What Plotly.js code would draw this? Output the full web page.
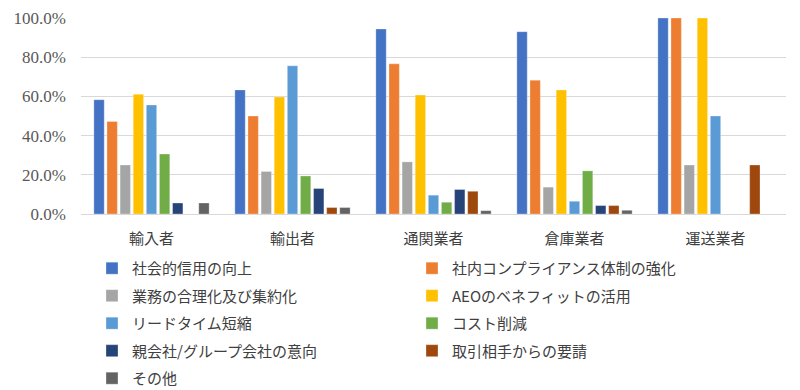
<!DOCTYPE html>
<html><head><meta charset="utf-8">
<script src="https://cdn.plot.ly/plotly-3.0.1.min.js"></script>
<style>html,body{margin:0;padding:0;background:#fff}#chart{width:800px;height:390px}</style>
</head><body><div id="chart"></div>
<script>
const categories = ["輸入者", "輸出者", "通関業者", "倉庫業者", "運送業者"];
const seriesNames = ["社会的信用の向上", "社内コンプライアンス体制の強化", "業務の合理化及び集約化", "AEOのベネフィットの活用", "リードタイム短縮", "コスト削減", "親会社/グループ会社の意向", "取引相手からの要請", "その他"];
const s1 = [0.583, 0.633, 0.944, 0.930, 1.000];
const s2 = [0.472, 0.500, 0.766, 0.683, 1.000];
const s3 = [0.250, 0.217, 0.266, 0.137, 0.250];
const s4 = [0.611, 0.597, 0.607, 0.633, 1.000];
const s5 = [0.556, 0.756, 0.096, 0.065, 0.500];
const s6 = [0.306, 0.194, 0.060, 0.220, 0.000];
const s7 = [0.056, 0.130, 0.125, 0.043, 0.000];
const s8 = [0.000, 0.033, 0.116, 0.043, 0.250];
const s9 = [0.056, 0.033, 0.017, 0.019, 0.000];
const colors = ["#4472C4", "#ED7D31", "#A5A5A5", "#FFC000", "#5B9BD5", "#70AD47", "#264478", "#9E480E", "#636363"];
const series = [s1, s2, s3, s4, s5, s6, s7, s8, s9];

const traces = series.map((vals, i) => ({
  type: "bar",
  name: seriesNames[i],
  x: categories,
  y: vals,
  marker: {color: colors[i], line: {color: "rgba(255,255,255,0.6)", width: 0.5}},
  legend: (i % 2 === 0) ? "legend" : "legend2",
  legendgroup: "g" + i,
  hoverinfo: "skip"
}));

const legendFont = {family: "Noto Sans CJK JP", size: 15, color: "#404040"};
const layout = {
  width: 800, height: 390,
  margin: {l: 81, r: 14, t: 18, b: 176, autoexpand: false},
  paper_bgcolor: "#fff", plot_bgcolor: "#fff",
  barmode: "group", bargap: 0.163, bargroupgap: 0.21,
  showlegend: true,
  xaxis: {
    type: "category",
    tickfont: {family: "Noto Sans CJK JP", size: 15, color: "#404040"},
    showgrid: false, showline: false, ticks: "", ticklabelstandoff: 14, tickangle: 0
  },
  yaxis: {
    range: [0, 1], tickvals: [0, 0.2, 0.4, 0.6, 0.8, 1.0], tickformat: ".1%",
    tickfont: {family: "Liberation Serif", size: 17, color: "#595959"},
    gridcolor: "#D9D9D9", gridwidth: 1, zeroline: true, zerolinecolor: "#D9D9D9", zerolinewidth: 1,
    showline: false, ticks: "", ticklabelstandoff: 14
  },
  legend: {
    orientation: "v", xref: "container", yref: "container",
    x: 0.115, y: 0.354, xanchor: "left", yanchor: "top",
    font: legendFont, tracegroupgap: 5, itemwidth: 30, bgcolor: "rgba(0,0,0,0)"
  },
  legend2: {
    orientation: "v", xref: "container", yref: "container",
    x: 0.515, y: 0.354, xanchor: "left", yanchor: "top",
    font: legendFont, tracegroupgap: 5, itemwidth: 30, bgcolor: "rgba(0,0,0,0)"
  }
};
Plotly.newPlot("chart", traces, layout, {displayModeBar: false, staticPlot: true});
</script></body></html>
